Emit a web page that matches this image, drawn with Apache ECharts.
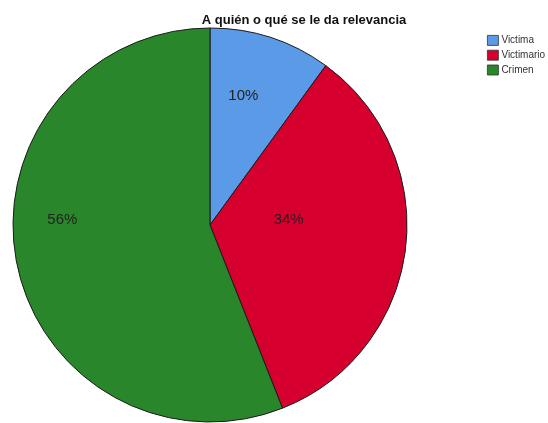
<!DOCTYPE html>
<html>
<head>
<meta charset="utf-8">
<script src="https://cdn.jsdelivr.net/npm/echarts@6/dist/echarts.min.js"></script>
<style>
  html, body { margin: 0; padding: 0; background: #fff; }
  #pie { width: 548px; height: 423px; }
</style>
</head>
<body>
<div id="pie"></div>
<script>
// percentages
const categories = ['Victima', 'Victimario', 'Crimen']
const shares = [10, 34, 56]
const colours = ['#5b9ae6', '#d5002e', '#2a862a']

// nudge labels to where SPSS put them (relative to the default 'inside' spot)
const labelNudge = [[2, -33], [-22, -18], [-48, -24]]

const myChart = echarts.init(document.getElementById('pie'))

const option = {
  animation: false,
  textStyle: { fontFamily: 'Arial, "Liberation Sans", sans-serif' },
  title: {
    text: 'A quién o qué se le da relevancia',
    left: 299,
    textAlign: 'center',
    top: 9,
    textStyle: { fontSize: 13, fontWeight: 'bold', color: '#111' }
  },
  legend: {
    orient: 'vertical',
    left: 482,
    top: 30,
    icon: 'rect',
    itemWidth: 11,
    itemHeight: 10,
    itemGap: 4,
    itemStyle: { borderWidth: 0.8, borderColor: '#333' },
    textStyle: { fontSize: 10, color: '#333', padding: [0, 0, 0, -2] },
    data: categories
  },
  series: [{
    type: 'pie',
    center: [210, 225],
    radius: 197,
    startAngle: 90,
    clockwise: true,
    avoidLabelOverlap: false,
    itemStyle: { borderColor: '#1a1a1a', borderWidth: 1 },
    label: {
      show: true,
      position: 'inside',
      formatter: '{c}%',
      fontSize: 15,
      color: '#222'
    },
    labelLine: { show: false },
    labelLayout: function (params) {
      const n = labelNudge[params.dataIndex]
      return { dx: n[0], dy: n[1] }
    },
    emphasis: { disabled: true },
    data: categories.map((name, i) => {
      return { name: name, value: shares[i], itemStyle: { color: colours[i] } }
    })
  }]
}

myChart.setOption(option)
</script>
</body>
</html>
